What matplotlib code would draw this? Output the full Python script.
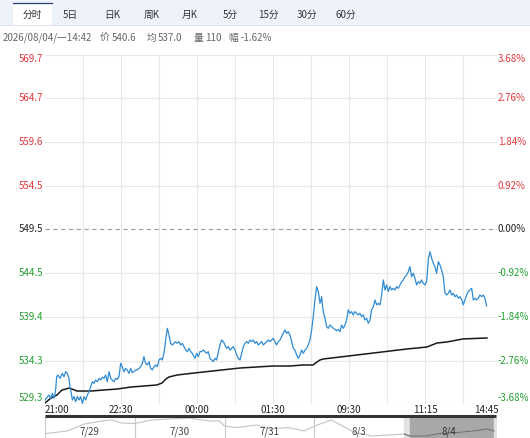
import matplotlib
matplotlib.use("Agg")
import matplotlib.pyplot as plt
from matplotlib.patches import Rectangle
from matplotlib.lines import Line2D

plt.rcParams['font.family'] = ['Noto Sans CJK SC', 'DejaVu Sans']

# ---------------- data ----------------
tabs = ["分时", "5日", "日K", "周K", "月K", "5分", "15分", "30分", "60分"]
header_date = "2026/08/04/一14:42"
header_price = "540.6"
header_avg = "537.0"
header_vol = "110"
header_amp = "-1.62%"

prev_close = 549.5
price_labels = ["569.7", "564.7", "559.6", "554.5", "549.5", "544.5", "539.4", "534.3", "529.3"]
pct_labels = ["3.68%", "2.76%", "1.84%", "0.92%", "0.00%", "-0.92%", "-1.84%", "-2.76%", "-3.68%"]
time_labels = ["21:00", "22:30", "00:00", "01:30", "09:30", "11:15", "14:45"]
time_label_pos = [0, 90, 180, 270, 360, 450, 535.3]   # minute index
x_max = 535.3

# price (minute index, price)
price_min = [0, 4.7, 6.7, 8.7, 10.7, 12.6, 13.8, 15.4, 17.8, 20.5, 22.5, 24.5, 26.4, 28.4, 29.6,
             31.2, 32.4, 34.3, 36.3, 38.3, 40.3, 42.2, 44.2, 46.2, 48.2, 50.1, 52.1, 54.1, 56.1,
             58.0, 60.0, 62.0, 64.0, 65.9, 67.9, 69.9, 71.8, 73.8, 75.8, 77.8, 79.7, 81.7, 83.7,
             85.7, 87.6, 89.6, 91.6, 93.5, 95.5, 97.5, 99.5, 101.4, 103.4, 105.4, 107.4, 109.3,
             111.3, 113.3, 115.3, 117.2, 119.2, 121.2, 123.2, 125.1, 127.1, 129.1, 131.0, 133.0,
             135.0, 137.0, 138.9, 140.9, 142.9, 144.9, 146.8, 148.8, 150.8, 152.8, 154.7, 156.7,
             158.7, 160.6, 162.6, 164.6, 166.6, 168.5, 170.5, 172.5, 174.5, 176.4,
             177.6, 179.6, 181.6, 183.5, 185.5, 187.5, 189.5, 191.4, 193.4, 195.4, 197.4, 199.3,
             201.3, 203.3, 205.3, 207.2, 209.2, 211.2, 213.1, 215.1, 217.1, 219.1, 221.0, 223.0,
             225.0, 227.0, 228.9, 230.9, 232.9, 234.9, 236.8, 238.8, 240.8, 242.7, 244.7, 246.7,
             248.7, 250.6, 252.6, 254.6, 256.6, 258.5, 260.5, 262.5, 264.5, 266.4, 268.4, 270.4,
             272.3, 274.3, 276.3, 278.3, 280.2, 282.2, 284.2, 286.2, 288.1, 290.1, 292.1, 294.1,
             296.0, 298.0, 300.0, 302.0, 303.9, 305.9, 307.9, 309.8, 311.8, 313.8, 315.8, 317.7,
             319.7, 321.7, 323.7, 325.6, 326.8, 327.6, 328.8, 329.6, 331.6, 333.5, 335.5, 337.5,
             339.5, 341.4, 343.4, 345.4, 347.4, 349.3,
             351.3, 353.3, 355.3, 357.2, 359.2, 361.2, 363.2, 365.1, 367.1, 369.1, 371.0, 373.0,
             375.0, 377.0, 378.9, 380.9, 382.9, 384.9, 386.8, 388.8, 390.8, 392.8, 394.7, 396.7,
             398.7, 400.7, 402.6, 404.6, 406.6, 408.5, 410.5, 412.5, 414.5, 416.4, 418.4, 420.4,
             422.4, 424.3, 426.3, 428.3, 430.3, 432.2, 434.2, 436.2, 438.1, 440.1, 442.1, 444.1,
             446.0, 448.0, 450.0, 452.0, 453.9, 455.9, 457.9, 459.9, 461.8, 463.8, 465.8, 467.8,
             469.7, 471.7, 473.7, 475.7, 477.6, 479.6, 481.6, 483.5, 485.5, 487.5, 489.5, 491.4,
             493.4, 495.4, 497.4, 499.3, 501.3, 503.3, 505.3, 507.2, 509.2, 511.2, 513.2, 515.1,
             517.1, 519.1, 521.0, 523.0]
price_val = [529.76, 530.34, 529.95, 530.53, 529.95, 530.92, 532.46, 532.65, 532.27, 532.84, 532.46,
             533.04, 532.84, 532.27, 531.30, 530.53, 529.76, 530.15, 529.57, 530.15, 529.76, 530.15,
             529.38, 530.15, 529.76, 530.34, 530.72, 531.30, 531.88, 531.69, 532.07, 531.88, 532.27,
             532.07, 532.38, 532.27, 532.65, 531.88, 533.04, 532.27, 532.07, 531.88, 532.27, 532.15,
             532.46, 534.00, 533.61, 533.04, 533.42, 533.23, 532.84, 533.42, 532.92, 533.04, 533.23,
             533.23, 533.42, 533.61, 534.00, 534.77, 534.00, 533.81, 534.19, 533.42, 533.23, 533.61,
             533.81, 533.61, 534.38, 534.58, 534.38, 535.16, 536.70, 538.05, 537.28, 536.31, 536.12,
             536.31, 536.50, 536.31, 536.50, 536.12, 536.31, 535.93, 535.54, 535.35, 535.73, 535.35,
             535.16, 534.77,
             534.58, 535.16, 534.77, 535.35, 535.35, 535.54, 535.35, 535.16, 535.35, 534.58, 534.39,
             534.20, 534.58, 534.39, 535.35, 536.12, 536.70, 536.51, 536.12, 535.74, 535.93, 535.54,
             535.74, 535.93, 535.54, 534.97, 534.58, 534.39, 535.16, 535.93, 536.31, 536.51, 536.31,
             536.70, 536.51, 536.70, 536.31, 536.51, 536.12, 536.31, 536.51, 536.12, 536.31, 536.51,
             536.70, 536.51, 536.70, 536.89, 536.51, 536.12, 536.51, 536.70, 537.09, 537.47, 537.86,
             537.47, 537.66, 537.28, 536.51, 535.74, 535.54, 534.97, 534.58, 534.97, 535.54, 535.16,
             535.54, 535.74, 536.12, 536.70, 537.86, 539.40, 541.32, 542.86, 542.29, 540.94, 541.32,
             541.71, 540.55, 539.97, 539.20, 538.24, 538.05, 538.43, 538.24, 538.05, 537.93, 537.78,
             537.93, 537.66,
             538.43, 538.05, 538.43, 539.01, 540.17, 539.78, 539.98, 539.59, 539.98, 539.78, 539.59,
             539.78, 539.40, 539.59, 539.01, 539.21, 538.63, 539.01, 540.17, 540.55, 541.32, 540.75,
             540.94, 540.75, 541.90, 543.64, 542.48, 543.06, 542.29, 542.87, 542.48, 542.67, 542.48,
             542.87, 542.67, 543.06, 543.44, 543.64, 544.02, 544.21, 544.60, 545.18, 544.02, 544.41,
             543.83, 543.06, 543.44, 543.25, 543.64, 543.25, 543.06, 543.44, 545.95, 546.91, 546.14,
             545.56, 545.18, 544.41, 545.76, 545.37, 544.79, 544.02, 542.10, 541.90, 542.10, 542.48,
             541.90, 542.10, 541.71, 541.90, 541.52, 541.71, 541.40, 540.75, 541.32, 541.90, 542.29,
             542.48, 542.67, 541.32, 541.52, 541.32, 541.52, 541.90, 541.71, 541.90, 541.52, 540.63]

# average price line
avg_min = [0, 7.1, 14.2, 20.1, 24.9, 28.4, 32.0, 37.9, 42.6, 54.5, 69.9, 85.3, 101.8, 117.2, 132.6,
           138.6, 143.3, 146.8, 156.3, 176.4, 230.9, 251.1, 270.0, 290.1, 305.5, 317.4, 322.1,
           325.7, 329.2, 349.3, 428.7, 440.5, 452.4, 464.2, 476.1, 495.0, 523.4]
avg_val = [529.42, 529.99, 530.34, 530.92, 531.03, 531.15, 531.03, 530.80, 530.80, 530.80, 530.92,
           531.03, 531.26, 531.38, 531.50, 531.73, 532.19, 532.42, 532.65, 532.88, 533.46, 533.58,
           533.69, 533.69, 533.81, 533.81, 534.16, 534.39, 534.50, 534.73, 535.66, 535.77, 535.89,
           536.35, 536.47, 536.82, 536.93]

# navigator (5 trading days)
nav_days = ["7/29", "7/30", "7/31", "8/3", "8/4"]
nav_x = [0.0, 0.25, 0.44, 0.63, 0.74, 0.85, 1.0, 1.19, 1.38, 1.60, 1.83, 1.94, 2.0, 2.13, 2.36,
         2.51, 2.70, 2.89, 3.0, 3.19, 3.45, 3.64, 3.83, 4.0, 4.06, 4.24, 4.39, 4.58, 4.77, 4.92, 5.0]
nav_v = [535.5, 541.7, 558.3, 565.5, 567.9, 560.7, 559.5, 567.9, 570.2, 572.6, 565.5, 565.5, 553.6,
         550.0, 556.0, 546.4, 550.0, 541.7, 553.6, 567.9, 537.9, 529.8, 532.2, 534.5, 529.8, 529.8,
         535.5, 537.9, 541.7, 546.4, 541.7]

# ---------------- figure ----------------
W, H = 530, 438
fig = plt.figure(figsize=(W / 100, H / 100), dpi=100)
fig.patch.set_facecolor('white')


def fx(x):
    return x / W


def fy(y):
    return 1 - y / H


# tab bar
fig.patches.append(Rectangle((0, fy(25)), 1, 25 / H, transform=fig.transFigure,
                             facecolor='#eef3fb', edgecolor='none', zorder=0))
fig.add_artist(Line2D([0, 1], [fy(25), fy(25)], transform=fig.transFigure, color='#dde5f0', lw=0.8))
fig.patches.append(Rectangle((fx(13), fy(25.5)), 39 / W, 22.5 / H, transform=fig.transFigure,
                             facecolor='white', edgecolor='none', zorder=1))
fig.add_artist(Line2D([fx(13), fx(52)], [fy(3.3), fy(3.3)], transform=fig.transFigure,
                      color='#2a3f6e', lw=0.9, zorder=2))
tab_x = [32, 70, 112, 152, 190, 230, 268, 307, 346]
for t, x in zip(tabs, tab_x):
    fig.text(fx(x), fy(15), t, ha='center', va='center', fontsize=7, color='#333333', zorder=3)

hdr_color = '#666666'
hdr_items = [(3, header_date), (100, "价"), (112, header_price), (147, "均"), (158, header_avg),
             (194, "量"), (205, header_vol), (228, "幅"), (241, header_amp)]
for x, s in hdr_items:
    fig.text(fx(x), fy(38), s, ha='left', va='center', fontsize=7, color=hdr_color)

# main axes
ax_left, ax_right, ax_top, ax_bottom = 45, 497, 54.5, 404
ax = fig.add_axes([fx(ax_left), fy(ax_bottom), (ax_right - ax_left) / W, (ax_bottom - ax_top) / H])
ax.set_xlim(0, x_max)
ax.set_ylim(float(price_labels[-1]), float(price_labels[0]))
for s in ax.spines.values():
    s.set_visible(False)
ax.set_xticks([])
ax.set_yticks([])

for k in range(1, 12):
    ax.axvline(45 * k, color='#e8e8e8', lw=0.8, zorder=0)
for lab in price_labels:
    v = float(lab)
    if abs(v - prev_close) < 1e-6:
        ax.axhline(v, color='#9a9a9a', lw=0.8, ls=(0, (4, 3)), zorder=1)
    else:
        ax.axhline(v, color='#e8e8e8', lw=0.8, zorder=0)

ax.plot(avg_min, avg_val, color='#1a1a1a', lw=1.1, zorder=3)
ax.plot(price_min, price_val, color='#2f8bd3', lw=0.9, zorder=4)

red, green, black = '#e0383c', '#22a030', '#222222'
n = len(price_labels)
for i, (pl, cl) in enumerate(zip(price_labels, pct_labels)):
    v = float(pl)
    col = red if v > prev_close + 1e-6 else (green if v < prev_close - 1e-6 else black)
    yp = ax_top + (float(price_labels[0]) - v) / (float(price_labels[0]) - float(price_labels[-1])) * (ax_bottom - ax_top)
    va = 'center'
    if i == 0:
        va = 'top'
        yp = ax_top
    elif i == n - 1:
        va = 'bottom'
        yp = ax_bottom - 1
    fig.text(fx(43), fy(yp), pl, ha='right', va=va, fontsize=7, color=col)
    fig.text(fx(498), fy(yp), cl, ha='left', va=va, fontsize=7, color=col)

# time labels
for i, (lab, m) in enumerate(zip(time_labels, time_label_pos)):
    xp = ax_left + m / x_max * (ax_right - ax_left)
    ha = 'center'
    if i == 0:
        ha = 'left'
    elif i == len(time_labels) - 1:
        ha = 'right'
        xp = 499
    fig.text(fx(xp), fy(410), lab, ha=ha, va='center', fontsize=7, color='#222222')

# navigator
fig.add_artist(Line2D([fx(45), fx(496)], [fy(416), fy(416)], transform=fig.transFigure,
                      color='#333333', lw=2.2, solid_capstyle='butt'))
nav = fig.add_axes([fx(45), 0, (ax_right - ax_left) / W, 21 / H])
nav.set_xlim(0, (ax_right - ax_left) / 89.8)
nav.set_ylim(525, 575)
nav.axis('off')
nav.axvspan(4.0, 4.06, color='#e2e2e2', zorder=1)
nav.axvspan(4.06, 5.0, color='#a8a8a8', zorder=1)
nav.axvspan(5.0, 5.033, color='#e2e2e2', zorder=1)
for k in range(1, 4):
    nav.axvline(k, color='#c8c8c8', lw=0.8, zorder=2)
nav.axvline(0, color='#c8c8c8', lw=0.8, zorder=2)
nav.plot(nav_x, nav_v, color='#c4c4c4', lw=0.8, zorder=3)
sel = [(x, v) for x, v in zip(nav_x, nav_v) if x >= 4.0]
nav.plot([p[0] for p in sel], [p[1] for p in sel], color='#6e6e6e', lw=0.8, zorder=4)
for k, d in enumerate(nav_days):
    nav.text(k + 0.5, 539, d, ha='center', va='center', fontsize=7,
             color='#444444' if k < 4 else '#333333', zorder=5)

fig.savefig('out.png', dpi=100)
